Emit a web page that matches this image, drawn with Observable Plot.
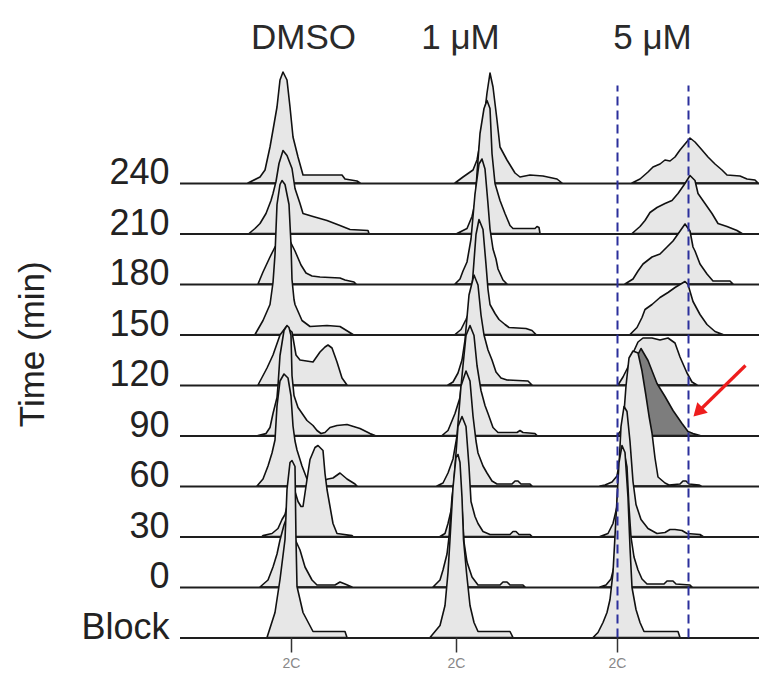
<!DOCTYPE html>
<html><head><meta charset="utf-8">
<script src="https://cdn.jsdelivr.net/npm/d3@7"></script>
<script src="https://cdn.jsdelivr.net/npm/@observablehq/plot@0.6"></script>
<style>body{margin:0;background:#fff}</style>
</head><body><div id="chart"></div>
<script>
// Panels (treatments) and rows (time after release, min)
const panels = ["DMSO", "1 μM", "5 μM"];
const rows = ["Block", "0", "30", "60", "90", "120", "150", "180", "210", "240"];
const axisLabel = "Time (min)";
const g1Channel = 100;   // 2C
const g2Channel = 171;   // 4C
const tickLabels = ["2C", "2C", "2C"];
// channel offset of each panel on the shared axis
const panelOffset = [11, 176, 337];
const titleAt = [112, 104, 135];
const rowGap = 50.5;       // counts per row of the ridgeline
const highlight = {panel: 2, row: 4};   // 5 μM, 90 min (dark)

// DNA histograms: [channel, count], rows in order Block, 0, 30, ... 240
const dmso = [
  [[76,0],[84,25],[89,58],[94,98],[96,148],[99,175],[101,177],[104,171],[105,98],[106,51],[112,25],[122,6],[154,6],[156,0]],
  [[69,0],[77,7],[82,20],[86,33],[89,47],[93,62],[96,70],[99,66],[103,50],[109,37],[114,20],[121,7],[126,2],[144,2],[149,5],[154,3],[161,0]],
  [[71,0],[72,1],[81,3],[87,8],[91,17],[94,22],[96,30],[98,45],[101,52],[104,45],[107,35],[110,30],[112,30],[116,57],[119,77],[124,89],[127,91],[132,86],[134,63],[136,47],[139,30],[142,13],[146,3],[161,1],[162,0]],
  [[66,0],[72,7],[77,20],[81,33],[84,46],[86,80],[89,105],[93,112],[97,108],[100,90],[102,60],[104,45],[106,36],[111,20],[116,7],[122,5],[134,6],[137,7],[142,8],[149,13],[156,7],[164,2],[166,0]],
  [[67,0],[75,2],[79,8],[82,22],[86,38],[87,50],[89,80],[93,105],[96,110],[98,108],[100,100],[101,60],[103,40],[107,28],[116,15],[122,10],[126,5],[130,2],[134,3],[139,8],[146,10],[156,11],[169,7],[179,2],[184,0]],
  [[67,0],[76,17],[82,30],[89,50],[95,58],[101,53],[105,30],[109,25],[122,23],[129,33],[134,38],[137,40],[141,37],[146,23],[151,7],[156,0]],
  [[64,0],[72,14],[79,30],[82,52],[84,80],[86,130],[89,150],[91,154],[94,150],[98,130],[100,90],[101,55],[103,35],[104,30],[111,14],[119,8],[136,9],[149,8],[162,0]],
  [[67,0],[72,12],[79,27],[84,37],[89,43],[94,46],[99,43],[104,33],[110,19],[115,11],[121,8],[129,7],[149,6],[154,4],[163,2],[165,0]],
  [[58,0],[64,5],[69,10],[75,20],[80,33],[82,40],[85,52],[88,70],[92,83],[96,78],[101,65],[104,45],[109,30],[112,20],[122,17],[136,13],[149,8],[159,4],[177,3],[178,0]],
  [[57,0],[69,6],[74,13],[79,36],[82,53],[86,76],[89,103],[92,111],[96,103],[99,76],[102,46],[107,26],[112,8],[151,8],[154,4],[166,2],[169,0]]
];
const um1 = [
  [[74,0],[84,12],[89,32],[92,65],[94,98],[97,150],[100,180],[102,183],[104,175],[106,140],[107.5,98],[110.5,65],[114,32],[118,15],[122,6],[154,6],[157,0]],
  [[77,0],[84,7],[87,17],[91,33],[93,50],[96,90],[100,120],[103,115],[106,80],[108,45],[111,25],[116,10],[122,2],[144,2],[147,5],[151,5],[154,2],[167,2],[169,0]],
  [[84,0],[89,3],[92,13],[96,30],[99,70],[102,110],[106,120],[110,110],[113,70],[115,35],[119,20],[122,13],[127,5],[134,2],[154,2],[157,5],[160,5],[163,2],[174,2],[176,0]],
  [[81,0],[87,3],[92,13],[97,27],[101,50],[105,100],[110,115],[114,105],[117,70],[120,45],[122,33],[127,20],[131,13],[136,5],[141,2],[156,2],[159,5],[162,5],[165,2],[174,2],[176,0]],
  [[86,0],[92,5],[99,22],[104,38],[107,70],[110,100],[114,110],[118,100],[121,70],[125,45],[129,30],[132,22],[137,8],[142,3],[161,3],[164,5],[167,3],[179,2],[181,0]],
  [[92,0],[97,3],[102,12],[106,25],[109,45],[113,90],[118,110],[122,100],[125,70],[128,50],[132,35],[136,25],[140,13],[145,7],[151,5],[172,4],[176,0]],
  [[99,0],[105,5],[110,15],[114,24],[117,60],[120,100],[123,115],[127,105],[130,70],[132,45],[134,30],[139,21],[143,15],[149,10],[153,7],[170,6],[176,4],[180,0]],
  [[99,0],[104,5],[107,13],[111,22],[115,45],[119,90],[123,120],[126,125],[129,115],[132,80],[134,55],[137,35],[140,25],[142,15],[147,4],[151,0]],
  [[101,0],[111,5],[116,17],[119,30],[121,60],[124,100],[128,125],[131,133],[134,125],[136,80],[139,50],[144,33],[149,20],[154,8],[157,5],[179,5],[181,7],[183,6],[184,0]],
  [[99,0],[107,6],[117,13],[121,23],[126,50],[129,73],[131,90],[134,110],[137,96],[141,63],[144,36],[151,23],[159,10],[164,6],[174,8],[187,7],[201,4],[206,0]]
];
const um5 = [
  [[76,0],[81,5],[86,15],[90,25],[93,38],[96,65],[99,120],[102,175],[105,192],[108,185],[111,140],[113,90],[115,50],[119,28],[123,15],[127,6],[161,6],[163,0]],
  [[83,0],[89,2],[94,8],[97,20],[99,45],[101,90],[104,130],[107,135],[110,120],[112,80],[114,50],[117,30],[121,17],[125,8],[130,3],[147,3],[150,6],[156,6],[159,3],[173,2],[175,0]],
  [[83,0],[91,3],[96,13],[100,30],[102,70],[104,110],[107,130],[110,125],[113,95],[116,55],[119,32],[124,17],[131,8],[140,3],[148,4],[153,7],[158,7],[165,6],[170,3],[183,2],[186,0]],
  [[83,0],[88,1],[95,4],[100,10],[103,27],[106,60],[109,100],[112,128],[116,135],[121,133],[125,115],[129,90],[132,70],[135,53],[138,28],[141,9],[148,3],[152,1],[163,2],[166,5],[169,5],[172,2],[182,1],[184,0]],
  [[100,0],[104,5],[108,24],[112,48],[116,66],[120,79],[124,87],[131,75],[140,52],[148,39],[156,25],[165,12],[171,4],[176,2],[183,0]],
  [[101,0],[106,8],[111,18],[116,32],[121,43],[126,47],[135,47],[143,45],[151,47],[158,42],[163,28],[170,12],[175,3],[180,0]],
  [[113,0],[120,7],[125,17],[128,25],[135,30],[143,37],[151,42],[158,47],[163,50],[168,53],[171,50],[176,33],[183,20],[190,10],[198,3],[206,0]],
  [[108,0],[116,5],[121,13],[126,20],[135,27],[143,30],[150,37],[156,43],[161,50],[168,60],[173,53],[176,37],[178,33],[183,20],[190,10],[196,3],[213,3],[216,0]],
  [[115,0],[123,7],[128,13],[133,21],[140,26],[148,30],[155,33],[161,40],[168,50],[173,58],[178,53],[181,40],[188,30],[195,20],[201,10],[210,7],[220,3],[225,0]],
  [[115,0],[123,4],[131,11],[136,16],[143,19],[148,23],[153,22],[158,26],[163,33],[168,39],[173,45],[178,41],[185,33],[191,26],[198,19],[205,13],[210,8],[223,7],[230,4],[238,3],[241,0]]
];
// annotation arrow (channel on 5 μM panel, count offset above Block row)
const arrowFrom = {c: 228, y: 272.5};
const arrowTo = {c: 182, y: 227.5};
const markerTop = 552;

const hists = [dmso, um1, um5];
const table = hists.flatMap((panel, p) => panel.flatMap((pts, r) =>
  pts.map(([c, h]) => ({p, r, x: c + panelOffset[p], y1: r * rowGap, y2: r * rowGap + h}))));

const light = "#e7e7e7", dark = "#7d7d7d";
const marks = [];
for (let r = rows.length - 1; r >= 0; r--) {
  for (let p = 0; p < panels.length; p++) {
    const isDark = p === highlight.panel && r === highlight.row;
    marks.push(Plot.areaY(table.filter(d => d.p === p && d.r === r), {
      x: "x", y1: "y1", y2: "y2", fill: isDark ? dark : light,
      stroke: "#111", strokeWidth: 1.6, strokeLinejoin: "round"
    }));
  }
  marks.push(Plot.ruleY([r * rowGap], {stroke: "#1e1e1e", strokeWidth: 2.2}));
}
marks.push(
  Plot.ruleX([g1Channel, g2Channel], {x: d => d + panelOffset[2], y1: 0, y2: markerTop,
    stroke: "#2b2f9c", strokeWidth: 2, strokeDasharray: "9,5"}),
  Plot.link([0], {x1: arrowFrom.c + panelOffset[2], y1: arrowFrom.y, x2: arrowTo.c + panelOffset[2], y2: arrowTo.y,
    stroke: "#ee1d1d", strokeWidth: 3.2}),
  Plot.dot([0], {x: arrowTo.c + panelOffset[2], y: arrowTo.y, symbol: "triangle", r: 5.5, rotate: 225, fill: "#ee1d1d"}),
  Plot.axisX({ticks: panelOffset.map(o => g1Channel + o), tickFormat: (d, i) => tickLabels[i], tickSize: 15, tickPadding: 5,
    fontSize: 14, stroke: "#333", fill: "#888", strokeWidth: 1.5, label: null}),
  Plot.text(rows, {y: (d, i) => i * rowGap, text: d => d, frameAnchor: "left", textAnchor: "end", dx: -11, dy: -11, fontSize: 36, fill: "#222"}),
  Plot.text([axisLabel], {frameAnchor: "left", dx: -148, rotate: -90, textAnchor: "middle", fontSize: 35, fill: "#222"}),
  Plot.text(panels, {x: (d, i) => titleAt[i] + panelOffset[i], frameAnchor: "top", dy: -26, fontSize: 35, fill: "#2a2a2a"})
);

const chart = Plot.plot({
  width: 759, height: 681,
  marginLeft: 180, marginRight: 0, marginTop: 50, marginBottom: 43.5,
  style: {fontFamily: "'Liberation Sans', Arial, sans-serif", background: "#fff"},
  x: {domain: [0, 579], range: [180, 759], axis: null},
  y: {domain: [0, 9 * rowGap], range: [637.5, 183], axis: null},
  marks
});
document.getElementById("chart").appendChild(chart);
</script>
</body></html>
